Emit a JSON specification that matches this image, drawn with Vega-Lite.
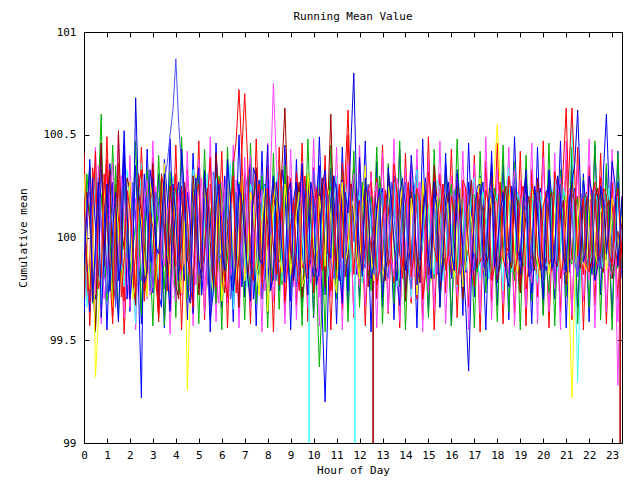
{
"$schema":"https://vega.github.io/schema/vega-lite/v6.json",
"width":538,"height":411,
"autosize":"none",
"padding":{"left":84,"top":32,"right":18,"bottom":37},
"background":"white",
"title":{"text":"Running Mean Value","font":"DejaVu Sans Mono","fontSize":11,"fontWeight":"normal","color":"black","offset":4},
"config":{"view":{"stroke":"black","strokeWidth":1},"axis":{"labelFont":"DejaVu Sans Mono","labelFontSize":11,"titleFont":"DejaVu Sans Mono","titleFontSize":11,"titleFontWeight":"normal","labelColor":"black","titleColor":"black","domainColor":"black","tickColor":"black","grid":false}},
"data":{"values":[
{"t":0,"a":100.05,"b":99.78,"c":100.24,"d":99.91,"e":100.13,"f":99.70,"g":100.31,"h":99.96,"i":100.19,"j":99.86,"k":99.62,"l":100.41,"m":99.88,"n":100.28},
{"t":0.125,"a":99.71,"b":100.31,"c":99.90,"d":100.08,"e":99.66,"f":100.22,"g":99.97,"h":100.18,"i":99.84,"j":100.12},
{"t":0.25,"a":99.88,"b":100.12,"c":99.64,"d":100.27,"e":99.83,"f":100.08,"g":99.75,"h":100.22,"i":99.69,"j":100.35,"k":100.38,"l":99.57,"m":100.33,"n":99.66},
{"t":0.375,"a":100.34,"b":99.68,"c":100.29,"d":99.88,"e":100.05,"f":99.79,"g":100.15,"h":99.73,"i":100.10,"j":99.69},
{"t":0.5,"a":100.21,"b":99.93,"c":100.06,"d":99.72,"e":100.31,"f":99.55,"g":99.32,"h":99.89,"i":100.42,"j":99.97,"k":99.70,"l":100.30,"m":99.54,"n":100.44},
{"t":0.625,"a":99.93,"b":100.22,"c":99.81,"d":100.35,"e":99.94,"f":100.14,"g":99.60,"h":100.29,"i":99.75,"j":100.27},
{"t":0.75,"a":99.76,"b":100.60,"c":100.33,"d":100.04,"e":99.67,"f":100.46,"g":99.84,"h":100.09,"i":99.81,"j":99.61,"k":100.46,"l":99.71,"m":100.21,"n":99.58},
{"t":0.875,"a":100.12,"b":99.87,"c":100.14,"d":99.70,"e":100.27,"f":99.86,"g":100.23,"h":99.83,"i":100.31,"j":99.92},
{"t":1,"a":100.38,"b":100.15,"c":99.81,"d":99.84,"e":100.02,"f":100.18,"g":100.12,"h":99.73,"i":100.07,"j":100.26,"k":99.55,"l":100.49,"m":99.69,"n":100.35},
{"t":1.125,"a":99.82,"b":100.04,"c":100.36,"d":100.19,"e":99.73,"f":100.33,"g":99.88,"h":100.05,"i":99.82,"j":99.74},
{"t":1.25,"a":99.95,"b":99.71,"c":100.17,"d":100.36,"e":99.91,"f":99.80,"g":99.66,"h":100.14,"i":99.58,"j":100.04,"k":100.27,"l":99.62,"m":100.45,"n":99.74},
{"t":1.375,"a":100.26,"b":100.35,"c":99.84,"d":99.79,"e":100.18,"f":99.69,"g":100.21,"h":99.66,"i":100.16,"j":100.22},
{"t":1.5,"a":100.09,"b":99.98,"c":99.59,"d":99.93,"e":100.24,"f":100.52,"g":100.03,"h":99.85,"i":100.28,"j":99.79,"k":99.81,"l":100.36,"m":99.60,"n":100.51},
{"t":1.625,"a":99.89,"b":99.80,"c":100.09,"d":100.30,"e":99.87,"f":100.06,"g":99.79,"h":100.19,"i":99.71,"j":99.88},
{"t":1.75,"a":99.69,"b":100.26,"c":100.45,"d":100.11,"e":99.76,"f":99.94,"g":99.89,"h":100.31,"i":99.90,"j":100.40,"k":100.52,"l":99.53,"m":100.28,"n":99.61},
{"t":1.875,"a":100.18,"b":100.10,"c":99.70,"d":99.87,"e":100.33,"f":100.29,"g":100.08,"h":99.90,"i":100.23,"j":100.15},
{"t":2,"a":100.27,"b":99.84,"c":99.92,"d":99.66,"e":100.15,"f":100.23,"g":100.27,"h":99.94,"i":100.14,"j":99.70,"k":99.64,"l":100.22,"m":99.72,"n":100.40},
{"t":2.125,"a":99.77,"b":99.94,"c":100.22,"d":100.02,"e":99.79,"f":99.81,"g":99.70,"h":100.27,"i":99.95,"j":99.86},
{"t":2.25,"a":99.92,"b":100.07,"c":100.11,"d":100.19,"e":99.58,"f":99.67,"g":99.78,"h":100.06,"i":99.73,"j":100.68,"k":100.35,"l":99.68,"m":100.47,"n":99.55},
{"t":2.375,"a":100.31,"b":100.26,"c":99.76,"d":99.83,"e":100.08,"f":100.22,"g":100.18,"h":99.81,"i":100.25,"j":100.19},
{"t":2.5,"a":100.14,"b":99.62,"c":99.22,"d":99.95,"e":100.36,"f":100.12,"g":100.08,"h":99.79,"i":100.33,"j":100.02,"k":99.58,"l":100.44,"m":99.63,"n":100.31},
{"t":2.625,"a":99.96,"b":99.79,"c":100.31,"d":100.16,"e":99.70,"f":99.74,"g":99.89,"h":100.10,"i":99.69,"j":99.78},
{"t":2.75,"a":99.81,"b":100.33,"c":100.08,"d":100.28,"e":99.94,"f":99.88,"g":99.71,"h":100.20,"i":99.87,"j":99.83,"k":100.43,"l":99.76,"m":100.25,"n":99.70},
{"t":2.875,"a":100.08,"b":100.15,"c":99.88,"d":99.72,"e":100.26,"f":100.17,"g":100.27,"h":99.74,"i":100.12,"j":100.33},
{"t":3,"a":100.33,"b":99.89,"c":100.29,"d":99.77,"e":100.09,"f":100.36,"g":100.19,"h":99.91,"i":100.05,"j":100.21,"k":99.73,"l":100.39,"m":99.57,"n":100.47},
{"t":3.125,"a":99.85,"b":99.96,"c":100.05,"d":100.25,"e":99.91,"f":99.88,"g":99.75,"h":100.22,"i":99.80,"j":99.96},
{"t":3.25,"a":99.74,"b":100.18,"c":99.73,"d":100.09,"e":99.80,"f":99.61,"g":99.94,"h":100.12,"i":99.62,"j":99.92,"k":100.31,"l":99.59,"m":100.40,"n":99.64},
{"t":3.375,"a":100.22,"b":100.29,"c":99.66,"d":99.93,"e":100.14,"f":100.31,"g":100.12,"h":99.87,"i":100.30,"j":100.08},
{"t":3.5,"a":100.02,"b":99.57,"c":100.38,"d":99.86,"e":100.27,"f":100.04,"g":100.36,"h":100.28,"i":100.24,"j":100.31,"k":99.56,"l":100.28,"m":99.75,"n":100.36},
{"t":3.625,"a":99.80,"b":99.83,"c":100.20,"d":100.11,"e":99.77,"f":99.85,"g":99.93,"h":100.36,"i":99.74,"j":99.83},
{"t":3.75,"a":100.19,"b":100.02,"c":99.87,"d":100.22,"e":99.69,"f":100.25,"g":99.81,"h":100.50,"i":99.97,"j":99.64,"k":100.48,"l":99.66,"m":100.32,"n":99.53},
{"t":3.875,"a":100.29,"b":100.14,"c":99.94,"d":99.80,"e":100.30,"f":100.07,"g":100.24,"h":100.62,"i":100.16,"j":100.26},
{"t":4,"a":99.86,"b":100.24,"c":100.16,"d":99.69,"e":100.18,"f":99.77,"g":100.05,"h":100.87,"i":100.31,"j":100.09,"k":99.69,"l":100.45,"m":99.61,"n":100.29},
{"t":4.125,"a":99.93,"b":99.72,"c":100.27,"d":100.21,"e":99.84,"f":99.70,"g":99.84,"h":100.55,"i":99.90,"j":99.79},
{"t":4.25,"a":100.25,"b":99.81,"c":99.95,"d":100.05,"e":99.88,"f":100.09,"g":99.73,"h":100.35,"i":99.84,"j":100.43,"k":100.25,"l":99.55,"m":100.49,"n":99.72},
{"t":4.375,"a":100.14,"b":100.27,"c":99.79,"d":99.87,"e":100.23,"f":100.26,"g":100.08,"h":100.12,"i":100.27,"j":100.21},
{"t":4.5,"a":99.97,"b":100.09,"c":100.22,"d":100.31,"e":100.04,"f":99.90,"g":99.26,"h":99.98,"i":100.11,"j":99.76,"k":99.60,"l":100.33,"m":99.70,"n":100.42},
{"t":4.625,"a":99.74,"b":99.90,"c":100.08,"d":100.16,"e":99.75,"f":99.82,"g":99.70,"h":99.86,"i":99.77,"j":99.68},
{"t":4.75,"a":100.11,"b":99.75,"c":99.63,"d":99.90,"e":100.33,"f":100.30,"g":100.16,"h":100.07,"i":99.66,"j":100.14,"k":100.41,"l":99.73,"m":100.24,"n":99.57},
{"t":4.875,"a":100.27,"b":100.18,"c":100.24,"d":99.77,"e":100.19,"f":100.12,"g":100.31,"h":100.23,"i":100.21,"j":100.29},
{"t":5,"a":99.79,"b":100.30,"c":100.34,"d":100.13,"e":99.74,"f":99.72,"g":99.92,"h":99.82,"i":100.26,"j":99.89,"k":99.75,"l":100.47,"m":99.58,"n":100.38},
{"t":5.125,"a":99.88,"b":99.84,"c":99.72,"d":100.29,"e":99.90,"f":99.91,"g":99.81,"h":99.95,"i":99.83,"j":99.80},
{"t":5.25,"a":100.30,"b":99.96,"c":99.90,"d":99.74,"e":100.07,"f":100.15,"g":100.24,"h":100.19,"i":99.93,"j":100.32,"k":100.33,"l":99.60,"m":100.43,"n":99.63},
{"t":5.375,"a":100.11,"b":100.23,"c":100.21,"d":99.92,"e":100.31,"f":100.24,"g":100.06,"h":99.79,"i":100.19,"j":100.11},
{"t":5.5,"a":99.93,"b":100.13,"c":100.09,"d":100.25,"e":99.86,"f":99.98,"g":99.85,"h":99.67,"i":100.39,"j":99.60,"k":99.54,"l":100.26,"m":99.67,"n":100.49},
{"t":5.625,"a":99.79,"b":99.91,"c":99.85,"d":100.10,"e":99.71,"f":99.77,"g":99.74,"h":100.32,"i":99.89,"j":99.73},
{"t":5.75,"a":100.16,"b":99.68,"c":100.41,"d":99.82,"e":100.29,"f":100.41,"g":100.04,"h":100.25,"i":99.76,"j":100.17,"k":100.46,"l":99.69,"m":100.37,"n":99.59},
{"t":5.875,"a":100.25,"b":100.30,"c":100.11,"d":99.68,"e":100.12,"f":100.19,"g":100.21,"h":99.88,"i":100.28,"j":100.26},
{"t":6,"a":99.72,"b":100.21,"c":99.78,"d":100.07,"e":99.97,"f":99.85,"g":99.69,"h":99.93,"i":100.08,"j":99.95,"k":99.66,"l":100.42,"m":99.55,"n":100.27},
{"t":6.125,"a":99.91,"b":99.79,"c":100.30,"d":100.22,"e":99.82,"f":99.73,"g":99.86,"h":100.14,"i":99.80,"j":99.84},
{"t":6.25,"a":100.08,"b":99.90,"c":100.18,"d":100.34,"e":100.20,"f":100.03,"g":100.29,"h":100.36,"i":99.71,"j":100.38,"k":100.29,"l":99.56,"m":100.44,"n":99.68},
{"t":6.375,"a":100.19,"b":100.13,"c":99.82,"d":99.81,"e":100.36,"f":100.16,"g":100.12,"h":99.70,"i":100.13,"j":100.20},
{"t":6.5,"a":100.35,"b":100.37,"c":99.67,"d":99.88,"e":99.65,"f":100.27,"g":99.95,"h":99.78,"i":100.30,"j":99.74,"k":99.59,"l":100.37,"m":99.71,"n":100.45},
{"t":6.625,"a":100.47,"b":99.95,"c":100.13,"d":100.28,"e":99.89,"f":99.92,"g":99.79,"h":100.22,"i":99.73,"j":99.87},
{"t":6.75,"a":100.72,"b":99.86,"c":100.26,"d":100.15,"e":100.11,"f":99.66,"g":100.13,"h":100.05,"i":99.91,"j":100.24,"k":100.50,"l":99.64,"m":100.27,"n":99.56},
{"t":6.875,"a":100.41,"b":100.24,"c":99.76,"d":99.90,"e":100.17,"f":100.29,"g":100.30,"h":99.84,"i":100.42,"j":100.18},
{"t":7,"a":99.90,"b":100.10,"c":99.93,"d":99.79,"e":99.92,"f":100.12,"g":99.79,"h":100.21,"i":100.70,"j":100.01,"k":99.71,"l":100.31,"m":99.60,"n":100.39},
{"t":7.125,"a":99.83,"b":99.88,"c":100.23,"d":100.29,"e":99.76,"f":99.80,"g":99.90,"h":100.30,"i":100.38,"j":99.81},
{"t":7.25,"a":100.23,"b":99.74,"c":100.37,"d":100.40,"e":100.26,"f":99.95,"g":100.22,"h":99.87,"i":99.85,"j":99.69,"k":100.36,"l":99.58,"m":100.46,"n":99.65},
{"t":7.375,"a":100.15,"b":100.19,"c":99.70,"d":99.85,"e":100.20,"f":100.18,"g":100.15,"h":99.93,"i":99.79,"j":100.34},
{"t":7.5,"a":99.82,"b":100.27,"c":99.85,"d":99.96,"e":99.81,"f":100.34,"g":99.88,"h":100.13,"i":100.17,"j":100.29,"k":99.57,"l":100.48,"m":99.68,"n":100.33},
{"t":7.625,"a":99.90,"b":99.82,"c":100.28,"d":100.13,"e":99.86,"f":99.93,"g":99.72,"h":100.19,"i":100.26,"j":99.90},
{"t":7.75,"a":100.12,"b":99.95,"c":100.12,"d":100.23,"e":100.15,"f":99.79,"g":100.07,"h":99.70,"i":99.78,"j":99.87,"k":100.42,"l":99.70,"m":100.30,"n":99.54},
{"t":7.875,"a":100.24,"b":100.26,"c":99.89,"d":99.74,"e":100.25,"f":100.24,"g":100.24,"h":99.82,"i":99.92,"j":100.15},
{"t":8,"a":99.95,"b":100.16,"c":99.71,"d":99.85,"e":99.73,"f":100.06,"g":99.64,"h":100.28,"i":100.24,"j":100.45,"k":99.63,"l":100.35,"m":99.56,"n":100.46},
{"t":8.125,"a":99.86,"b":99.91,"c":100.15,"d":100.31,"e":99.84,"f":99.84,"g":99.95,"h":100.07,"i":100.14,"j":99.74},
{"t":8.25,"a":100.28,"b":99.79,"c":100.30,"d":100.75,"e":100.08,"f":100.21,"g":100.18,"h":99.95,"i":99.96,"j":99.82,"k":100.27,"l":99.54,"m":100.41,"n":99.69},
{"t":8.375,"a":100.10,"b":100.20,"c":99.80,"d":100.38,"e":100.27,"f":100.11,"g":100.27,"h":99.79,"i":99.82,"j":100.27},
{"t":8.5,"a":99.77,"b":100.04,"c":99.96,"d":100.10,"e":100.35,"f":99.88,"g":99.91,"h":100.10,"i":100.35,"j":100.13,"k":99.74,"l":100.44,"m":99.65,"n":100.30},
{"t":8.625,"a":99.95,"b":99.77,"c":100.33,"d":99.89,"e":99.79,"f":100.35,"g":99.83,"h":100.25,"i":100.22,"j":99.93},
{"t":8.75,"a":100.17,"b":100.31,"c":100.21,"d":99.80,"e":99.87,"f":100.63,"g":100.26,"h":99.83,"i":99.69,"j":99.78,"k":100.45,"l":99.62,"m":100.35,"n":99.58},
{"t":8.875,"a":100.30,"b":100.16,"c":99.92,"d":100.20,"e":100.16,"f":100.20,"g":100.12,"h":99.91,"i":99.86,"j":100.22},
{"t":9,"a":99.99,"b":99.87,"c":99.69,"d":100.19,"e":100.10,"f":99.93,"g":99.82,"h":100.24,"i":100.06,"j":100.27,"k":99.55,"l":100.29,"m":99.73,"n":100.43},
{"t":9.125,"a":99.78,"b":99.95,"c":100.18,"d":99.76,"e":99.92,"f":99.79,"g":99.96,"h":100.12,"i":100.18,"j":99.80},
{"t":9.25,"a":100.32,"b":100.11,"c":100.27,"d":99.92,"e":99.78,"f":100.17,"g":100.12,"h":99.76,"i":99.88,"j":99.93,"k":100.38,"l":99.67,"m":100.26,"n":99.60},
{"t":9.375,"a":100.19,"b":100.24,"c":99.81,"d":100.13,"e":100.19,"f":100.27,"g":100.22,"h":99.85,"i":99.74,"j":100.15},
{"t":9.5,"a":99.85,"b":99.66,"c":99.90,"d":100.26,"e":100.01,"f":99.71,"g":99.76,"h":100.16,"i":100.21,"j":100.36,"k":99.68,"l":100.46,"m":99.57,"n":100.37},
{"t":9.625,"a":99.89,"b":99.82,"c":100.26,"d":100.04,"e":99.83,"f":99.86,"g":99.81,"h":100.28,"i":100.30,"j":99.88},
{"t":9.75,"a":100.06,"b":100.19,"c":100.15,"d":99.87,"e":99.85,"f":100.28,"g":100.31,"h":99.94,"i":99.80,"j":99.72,"k":100.31,"l":99.59,"m":100.48,"n":99.66},
{"t":9.79,"e":100.02},
{"t":9.8,"e":40},
{"t":9.81,"e":99.90},
{"t":9.875,"a":100.25,"b":100.07,"c":99.88,"d":99.78,"e":100.05,"f":100.14,"g":100.17,"h":99.89,"i":99.93,"j":100.27},
{"t":10,"a":99.73,"b":99.94,"c":99.81,"d":100.12,"e":100.16,"f":99.90,"g":99.97,"h":100.33,"i":100.14,"j":100.19,"k":99.61,"l":100.34,"m":99.62,"n":100.48},
{"t":10.125,"a":99.94,"b":99.79,"c":100.22,"d":100.25,"e":99.94,"f":99.83,"g":99.85,"h":100.17,"i":100.24,"j":99.77},
{"t":10.25,"a":100.24,"b":99.37,"c":100.35,"d":99.71,"e":99.86,"f":100.10,"g":100.20,"h":99.81,"i":99.93,"j":99.85,"k":100.49,"l":99.72,"m":100.29,"n":99.57},
{"t":10.375,"a":100.12,"b":99.71,"c":99.63,"d":99.90,"e":100.12,"f":100.29,"g":100.08,"h":99.94,"i":99.84,"j":100.24},
{"t":10.5,"a":99.91,"b":100.08,"c":99.20,"d":100.29,"e":100.23,"f":99.76,"g":99.86,"h":100.07,"i":100.29,"j":100.33,"k":99.72,"l":100.40,"m":99.54,"n":100.32},
{"t":10.625,"a":99.81,"b":100.18,"c":99.68,"d":100.17,"e":99.81,"f":100.18,"g":100.23,"h":100.21,"i":100.20,"j":99.92},
{"t":10.75,"a":100.14,"b":100.25,"c":100.19,"d":99.95,"e":99.92,"f":100.60,"g":100.09,"h":99.89,"i":99.74,"j":99.90,"k":100.34,"l":99.55,"m":100.45,"n":99.71},
{"t":10.875,"a":100.27,"b":99.92,"c":100.30,"d":99.81,"e":100.17,"f":100.05,"g":99.80,"h":99.80,"i":99.88,"j":100.30},
{"t":11,"a":99.80,"b":99.83,"c":99.86,"d":100.17,"e":100.30,"f":99.84,"g":99.73,"h":100.26,"i":100.12,"j":100.23,"k":99.58,"l":100.27,"m":99.70,"n":100.44},
{"t":11.125,"a":99.93,"b":100.16,"c":99.79,"d":100.26,"e":99.86,"f":100.21,"g":100.14,"h":100.10,"i":100.26,"j":99.84},
{"t":11.25,"a":100.36,"b":100.12,"c":100.28,"d":99.83,"e":99.75,"f":100.19,"g":100.27,"h":99.72,"i":99.90,"j":99.68,"k":100.44,"l":99.65,"m":100.33,"n":99.55},
{"t":11.375,"a":100.18,"b":99.86,"c":100.14,"d":99.92,"e":100.26,"f":99.81,"g":99.87,"h":99.88,"i":100.31,"j":100.22},
{"t":11.5,"a":99.96,"b":99.90,"c":99.74,"d":100.08,"e":100.12,"f":99.92,"g":99.95,"h":100.18,"i":100.62,"j":100.12,"k":99.65,"l":100.50,"m":99.59,"n":100.36},
{"t":11.625,"a":99.84,"b":100.22,"c":100.26,"d":100.19,"e":99.83,"f":100.26,"g":100.20,"h":100.24,"i":100.11,"j":100.46},
{"t":11.75,"a":100.10,"b":100.34,"c":100.09,"d":100.31,"e":100.08,"f":100.07,"g":100.14,"h":99.98,"i":99.82,"j":100.80,"k":100.30,"l":99.61,"m":100.42,"n":99.62},
{"t":11.79,"e":99.96},
{"t":11.8,"e":40},
{"t":11.81,"e":100.04},
{"t":11.875,"a":100.24,"b":99.93,"c":99.82,"d":99.86,"e":100.15,"f":99.90,"g":99.92,"h":100.13,"i":100.05,"j":100.20},
{"t":12,"a":99.84,"b":99.78,"c":100.39,"d":99.76,"e":100.22,"f":99.81,"g":99.80,"h":100.31,"i":100.18,"j":99.94,"k":99.70,"l":100.38,"m":99.66,"n":100.45},
{"t":12.125,"a":99.97,"b":100.27,"c":100.12,"d":100.20,"e":99.78,"f":100.16,"g":100.18,"h":99.90,"i":99.83,"j":99.81},
{"t":12.25,"a":100.20,"b":100.05,"c":99.88,"d":100.14,"e":99.90,"f":100.24,"g":100.35,"h":99.85,"i":99.95,"j":100.29,"k":100.47,"l":99.57,"m":100.27,"n":99.67},
{"t":12.375,"a":100.09,"b":99.81,"c":100.25,"d":99.84,"e":100.19,"f":99.76,"g":100.03,"h":100.26,"i":100.23,"j":100.16},
{"t":12.5,"a":99.94,"b":100.20,"c":100.13,"d":99.90,"e":100.06,"f":99.93,"g":99.91,"h":100.14,"i":100.27,"j":99.80,"k":99.54,"l":100.32,"m":99.74,"n":100.31},
{"t":12.58,"f":100.05},
{"t":12.59,"f":40},
{"t":12.6,"f":99.98},
{"t":12.625,"a":100.13,"b":100.08,"c":99.87,"d":100.19,"e":99.91,"f":99.96,"g":99.79,"h":99.82,"i":100.09,"j":99.87},
{"t":12.75,"a":100.29,"b":99.85,"c":99.79,"d":100.27,"e":99.79,"f":100.13,"g":100.06,"h":99.93,"i":99.77,"j":100.16,"k":100.37,"l":99.70,"m":100.44,"n":99.56},
{"t":12.875,"a":99.85,"b":100.30,"c":100.20,"d":99.83,"e":100.24,"f":100.22,"g":100.21,"h":100.16,"i":99.84,"j":100.24},
{"t":13,"a":99.88,"b":100.14,"c":100.24,"d":99.98,"e":100.18,"f":99.86,"g":99.78,"h":100.22,"i":100.09,"j":99.71,"k":99.66,"l":100.45,"m":99.58,"n":100.41},
{"t":13.125,"a":100.23,"b":99.80,"c":99.84,"d":100.16,"e":99.87,"f":99.79,"g":99.91,"h":99.86,"i":100.21,"j":99.88},
{"t":13.25,"a":100.15,"b":99.92,"c":99.92,"d":100.09,"e":99.94,"f":100.31,"g":100.25,"h":99.80,"i":99.86,"j":100.34,"k":100.29,"l":99.63,"m":100.36,"n":99.64},
{"t":13.375,"a":99.93,"b":100.16,"c":100.17,"d":99.90,"e":100.11,"f":100.19,"g":100.16,"h":100.27,"i":99.91,"j":100.18},
{"t":13.5,"a":99.78,"b":100.28,"c":100.30,"d":99.81,"e":100.27,"f":99.97,"g":99.94,"h":100.09,"i":100.36,"j":99.97,"k":99.60,"l":100.27,"m":99.68,"n":100.48},
{"t":13.625,"a":100.21,"b":99.89,"c":99.80,"d":100.29,"e":99.76,"f":99.84,"g":99.83,"h":99.97,"i":100.22,"j":99.79},
{"t":13.75,"a":100.07,"b":99.76,"c":99.67,"d":100.22,"e":99.84,"f":100.08,"g":100.13,"h":99.91,"i":99.92,"j":100.21,"k":100.43,"l":99.56,"m":100.47,"n":99.59},
{"t":13.875,"a":99.86,"b":100.21,"c":100.26,"d":99.92,"e":100.22,"f":100.24,"g":100.27,"h":100.18,"i":99.80,"j":100.29},
{"t":14,"a":99.92,"b":100.09,"c":100.17,"d":99.85,"e":100.08,"f":99.69,"g":99.86,"h":100.27,"i":100.15,"j":99.84,"k":99.73,"l":100.41,"m":99.55,"n":100.34},
{"t":14.125,"a":100.16,"b":99.93,"c":99.95,"d":100.24,"e":99.92,"f":99.90,"g":99.93,"h":99.84,"i":100.27,"j":99.95},
{"t":14.25,"a":100.26,"b":99.88,"c":99.86,"d":100.36,"e":99.71,"f":100.22,"g":100.19,"h":99.75,"i":99.81,"j":100.40,"k":100.35,"l":99.68,"m":100.31,"n":99.70},
{"t":14.375,"a":99.90,"b":100.17,"c":100.22,"d":99.81,"e":100.21,"f":100.11,"g":100.06,"h":100.21,"i":99.93,"j":100.20},
{"t":14.5,"a":99.70,"b":100.23,"c":100.33,"d":99.94,"e":100.33,"f":99.91,"g":99.72,"h":100.12,"i":100.24,"j":99.77,"k":99.56,"l":100.35,"m":99.72,"n":100.43},
{"t":14.625,"a":100.24,"b":99.83,"c":99.78,"d":100.27,"e":99.87,"f":99.78,"g":99.88,"h":99.89,"i":100.17,"j":99.86},
{"t":14.75,"a":100.19,"b":99.97,"c":100.02,"d":100.12,"e":99.98,"f":100.16,"g":100.28,"h":100.03,"i":99.70,"j":100.10,"k":100.48,"l":99.60,"m":100.25,"n":99.54},
{"t":14.875,"a":99.93,"b":100.22,"c":100.29,"d":99.94,"e":100.20,"f":100.27,"g":100.13,"h":100.27,"i":99.82,"j":100.23},
{"t":15,"a":99.87,"b":100.15,"c":99.76,"d":99.73,"e":100.14,"f":99.82,"g":99.97,"h":99.86,"i":100.32,"j":99.91,"k":99.64,"l":100.49,"m":99.61,"n":100.38},
{"t":15.125,"a":100.12,"b":99.89,"c":99.97,"d":100.14,"e":99.90,"f":99.93,"g":99.79,"h":100.05,"i":100.20,"j":99.80},
{"t":15.25,"a":100.31,"b":99.80,"c":100.21,"d":100.18,"e":99.82,"f":100.35,"g":100.10,"h":100.19,"i":99.95,"j":100.27,"k":100.28,"l":99.55,"m":100.43,"n":99.65},
{"t":15.375,"a":99.82,"b":100.12,"c":100.16,"d":99.83,"e":100.28,"f":100.19,"g":100.20,"h":99.84,"i":99.88,"j":100.14},
{"t":15.5,"a":99.97,"b":100.19,"c":99.91,"d":99.87,"e":100.24,"f":99.75,"g":99.83,"h":99.79,"i":100.11,"j":99.66,"k":99.69,"l":100.31,"m":99.66,"n":100.47},
{"t":15.625,"a":100.26,"b":99.86,"c":99.83,"d":100.19,"e":99.79,"f":99.86,"g":99.93,"h":100.17,"i":100.26,"j":99.90},
{"t":15.75,"a":100.13,"b":99.91,"c":100.36,"d":100.24,"e":99.89,"f":100.11,"g":100.22,"h":100.26,"i":99.84,"j":100.18,"k":100.41,"l":99.73,"m":100.34,"n":99.58},
{"t":15.875,"a":99.94,"b":100.15,"c":100.19,"d":99.88,"e":100.17,"f":100.22,"g":100.11,"h":99.91,"i":99.93,"j":100.27},
{"t":16,"a":99.81,"b":100.26,"c":99.80,"d":99.96,"e":100.05,"f":99.88,"g":99.90,"h":99.92,"i":100.20,"j":99.93,"k":99.57,"l":100.43,"m":99.57,"n":100.30},
{"t":16.125,"a":100.17,"b":99.93,"c":99.92,"d":100.22,"e":99.86,"f":99.81,"g":99.80,"h":100.23,"i":100.13,"j":99.84},
{"t":16.25,"a":100.22,"b":99.84,"c":100.14,"d":100.30,"e":99.76,"f":100.25,"g":100.07,"h":100.15,"i":99.77,"j":100.31,"k":100.33,"l":99.61,"m":100.48,"n":99.72},
{"t":16.375,"a":99.83,"b":100.20,"c":100.24,"d":99.86,"e":100.10,"f":100.09,"g":100.24,"h":99.82,"i":99.89,"j":100.18},
{"t":16.5,"a":99.90,"b":100.12,"c":99.93,"d":99.79,"e":100.20,"f":99.70,"g":99.76,"h":99.88,"i":100.28,"j":99.88,"k":99.62,"l":100.26,"m":99.70,"n":100.42},
{"t":16.625,"a":100.21,"b":99.88,"c":99.83,"d":100.24,"e":99.84,"f":99.92,"g":99.91,"h":100.12,"i":100.24,"j":99.66},
{"t":16.75,"a":100.08,"b":99.95,"c":100.27,"d":100.16,"e":99.93,"f":100.14,"g":100.16,"h":100.21,"i":99.93,"j":99.35,"k":100.46,"l":99.66,"m":100.27,"n":99.55},
{"t":16.875,"a":99.91,"b":100.19,"c":100.12,"d":99.80,"e":100.24,"f":100.28,"g":100.09,"h":99.87,"i":99.81,"j":99.82},
{"t":17,"a":99.76,"b":100.21,"c":99.84,"d":99.91,"e":100.29,"f":99.93,"g":99.92,"h":99.84,"i":100.16,"j":100.08,"k":99.71,"l":100.40,"m":99.56,"n":100.36},
{"t":17.125,"a":100.14,"b":99.83,"c":99.91,"d":100.18,"e":99.89,"f":99.85,"g":100.18,"h":100.19,"i":100.22,"j":100.25},
{"t":17.25,"a":100.27,"b":99.89,"c":100.18,"d":100.21,"e":99.80,"f":100.20,"g":100.29,"h":100.10,"i":99.88,"j":100.26,"k":100.30,"l":99.54,"m":100.42,"n":99.63},
{"t":17.375,"a":99.87,"b":100.15,"c":100.27,"d":99.93,"e":100.22,"f":100.13,"g":99.86,"h":99.85,"i":99.91,"j":99.92},
{"t":17.5,"a":99.95,"b":100.07,"c":99.89,"d":99.84,"e":100.13,"f":99.85,"g":99.81,"h":99.95,"i":100.23,"j":99.81,"k":99.55,"l":100.37,"m":99.73,"n":100.49},
{"t":17.625,"a":100.22,"b":99.92,"c":99.80,"d":100.20,"e":99.80,"f":99.92,"g":100.24,"h":100.17,"i":100.16,"j":100.19},
{"t":17.75,"a":100.18,"b":99.82,"c":100.32,"d":100.27,"e":99.87,"f":100.30,"g":100.14,"h":100.24,"i":99.79,"j":100.36,"k":100.42,"l":99.69,"m":100.30,"n":99.60},
{"t":17.875,"a":99.89,"b":100.24,"c":100.15,"d":99.86,"e":100.17,"f":100.18,"g":100.33,"h":99.90,"i":99.85,"j":99.86},
{"t":18,"a":99.83,"b":100.17,"c":99.78,"d":99.95,"e":100.21,"f":99.79,"g":100.55,"h":99.82,"i":100.13,"j":99.95,"k":99.67,"l":100.46,"m":99.59,"n":100.33},
{"t":18.125,"a":100.15,"b":99.85,"c":99.90,"d":100.24,"e":99.93,"f":99.88,"g":100.27,"h":100.23,"i":100.27,"j":100.12},
{"t":18.25,"a":100.23,"b":99.93,"c":100.11,"d":100.10,"e":99.74,"f":100.16,"g":99.88,"h":100.17,"i":99.90,"j":100.22,"k":100.36,"l":99.58,"m":100.45,"n":99.68},
{"t":18.375,"a":99.92,"b":100.14,"c":100.21,"d":99.91,"e":100.25,"f":100.25,"g":99.95,"h":99.94,"i":99.84,"j":99.83},
{"t":18.5,"a":99.96,"b":100.28,"c":99.94,"d":99.82,"e":100.34,"f":99.90,"g":100.21,"h":99.90,"i":100.30,"j":99.76,"k":99.60,"l":100.29,"m":99.64,"n":100.44},
{"t":18.625,"a":100.20,"b":99.90,"c":99.86,"d":100.18,"e":99.83,"f":99.85,"g":100.14,"h":100.16,"i":100.19,"j":100.25},
{"t":18.75,"a":100.12,"b":99.79,"c":100.25,"d":100.33,"e":99.91,"f":100.24,"g":99.94,"h":100.29,"i":99.83,"j":100.14,"k":100.49,"l":99.63,"m":100.37,"n":99.57},
{"t":18.875,"a":99.86,"b":100.22,"c":100.20,"d":99.84,"e":100.22,"f":100.17,"g":99.83,"h":99.92,"i":99.90,"j":99.94},
{"t":19,"a":99.74,"b":100.13,"c":99.82,"d":99.89,"e":100.17,"f":99.73,"g":100.08,"h":99.86,"i":100.19,"j":99.89,"k":99.74,"l":100.42,"m":99.55,"n":100.28},
{"t":19.125,"a":100.18,"b":99.86,"c":99.96,"d":100.25,"e":99.90,"f":99.92,"g":100.20,"h":100.20,"i":100.25,"j":100.17},
{"t":19.25,"a":100.30,"b":99.90,"c":100.29,"d":100.19,"e":99.85,"f":100.12,"g":99.77,"h":100.13,"i":99.75,"j":100.33,"k":100.27,"l":99.57,"m":100.40,"n":99.66},
{"t":19.375,"a":99.85,"b":100.17,"c":100.12,"d":99.87,"e":100.20,"f":100.20,"g":99.87,"h":99.84,"i":99.86,"j":99.81},
{"t":19.5,"a":99.91,"b":100.20,"c":99.73,"d":99.78,"e":100.26,"f":99.96,"g":100.26,"h":99.97,"i":100.26,"j":99.84,"k":99.58,"l":100.33,"m":99.69,"n":100.46},
{"t":19.625,"a":100.22,"b":99.92,"c":99.89,"d":100.20,"e":99.86,"f":99.84,"g":100.15,"h":100.19,"i":100.20,"j":100.25},
{"t":19.75,"a":100.16,"b":99.86,"c":100.16,"d":100.26,"e":99.78,"f":100.29,"g":99.90,"h":100.22,"i":99.92,"j":100.12,"k":100.44,"l":99.71,"m":100.26,"n":99.58},
{"t":19.875,"a":99.90,"b":100.20,"c":100.24,"d":99.85,"e":100.22,"f":100.16,"g":99.80,"h":99.90,"i":99.84,"j":99.89},
{"t":20,"a":99.85,"b":100.11,"c":99.98,"d":99.92,"e":100.10,"f":99.83,"g":100.15,"h":99.79,"i":100.15,"j":99.70,"k":99.63,"l":100.47,"m":99.62,"n":100.39},
{"t":20.125,"a":100.14,"b":99.88,"c":99.84,"d":100.22,"e":99.86,"f":99.90,"g":100.23,"h":100.23,"i":100.22,"j":100.19},
{"t":20.25,"a":100.26,"b":99.73,"c":100.33,"d":100.14,"e":99.89,"f":100.18,"g":99.82,"h":100.18,"i":99.87,"j":100.28,"k":100.32,"l":99.56,"m":100.46,"n":99.64},
{"t":20.375,"a":99.84,"b":100.18,"c":100.20,"d":99.90,"e":100.19,"f":100.22,"g":99.91,"h":99.87,"i":99.90,"j":99.85},
{"t":20.5,"a":99.93,"b":100.24,"c":99.77,"d":99.75,"e":100.31,"f":99.88,"g":100.11,"h":99.93,"i":100.32,"j":99.91,"k":99.70,"l":100.30,"m":99.57,"n":100.41},
{"t":20.625,"a":100.23,"b":99.85,"c":99.94,"d":100.20,"e":99.84,"f":99.86,"g":100.19,"h":100.17,"i":100.24,"j":100.30},
{"t":20.75,"a":100.10,"b":99.94,"c":100.21,"d":100.29,"e":99.95,"f":100.10,"g":99.85,"h":100.26,"i":99.80,"j":100.20,"k":100.47,"l":99.64,"m":100.33,"n":99.55},
{"t":20.875,"a":100.35,"b":100.22,"c":100.17,"d":99.82,"e":100.24,"f":100.18,"g":99.86,"h":99.84,"i":99.89,"j":99.93},
{"t":21,"a":100.63,"b":100.16,"c":99.87,"d":99.86,"e":100.18,"f":99.77,"g":100.20,"h":99.88,"i":100.11,"j":99.83,"k":99.56,"l":100.38,"m":99.71,"n":100.47},
{"t":21.125,"a":100.12,"b":99.90,"c":99.83,"d":100.24,"e":100.26,"f":99.90,"g":99.70,"h":100.20,"i":100.34,"j":100.17},
{"t":21.25,"a":99.89,"b":99.87,"c":100.19,"d":100.20,"e":100.60,"f":100.27,"g":99.22,"h":100.12,"i":100.63,"j":100.27,"k":100.39,"l":99.60,"m":100.44,"n":99.62},
{"t":21.375,"a":100.14,"b":100.15,"c":100.24,"d":99.86,"e":99.88,"f":100.15,"g":99.76,"h":99.88,"i":100.30,"j":100.36},
{"t":21.5,"a":100.20,"b":100.19,"c":99.81,"d":99.83,"e":99.30,"f":99.92,"g":100.09,"h":99.81,"i":99.91,"j":100.62,"k":99.66,"l":100.44,"m":99.58,"n":100.35},
{"t":21.625,"a":99.92,"b":99.86,"c":99.96,"d":100.22,"e":99.82,"f":99.85,"g":100.21,"h":100.16,"i":100.12,"j":100.22},
{"t":21.75,"a":99.82,"b":99.91,"c":100.28,"d":100.17,"e":100.14,"f":100.21,"g":99.88,"h":100.24,"i":100.19,"j":99.88,"k":100.31,"l":99.55,"m":100.29,"n":99.69},
{"t":21.875,"a":100.22,"b":100.19,"c":100.15,"d":99.88,"e":100.21,"f":100.20,"g":99.84,"h":99.87,"i":99.86,"j":99.95},
{"t":22,"a":100.15,"b":100.13,"c":99.90,"d":99.79,"e":99.86,"f":99.84,"g":100.17,"h":99.90,"i":99.83,"j":100.30,"k":99.59,"l":100.35,"m":99.66,"n":100.48},
{"t":22.125,"a":99.85,"b":99.88,"c":99.82,"d":100.21,"e":99.92,"f":99.89,"g":100.22,"h":100.23,"i":100.20,"j":100.21},
{"t":22.25,"a":99.88,"b":99.80,"c":100.24,"d":100.25,"e":100.23,"f":100.19,"g":99.93,"h":100.20,"i":100.27,"j":99.79,"k":100.45,"l":99.67,"m":100.47,"n":99.56},
{"t":22.375,"a":100.18,"b":100.16,"c":100.20,"d":99.86,"e":100.17,"f":100.24,"g":99.87,"h":99.91,"i":99.89,"j":99.86},
{"t":22.5,"a":100.29,"b":100.22,"c":99.85,"d":99.88,"e":99.92,"f":99.86,"g":100.12,"h":99.85,"i":99.94,"j":100.25,"k":99.72,"l":100.41,"m":99.60,"n":100.30},
{"t":22.625,"a":99.90,"b":99.92,"c":100.33,"d":100.19,"e":99.84,"f":99.83,"g":100.16,"h":100.18,"i":100.24,"j":100.17},
{"t":22.75,"a":99.94,"b":99.89,"c":100.60,"d":100.13,"e":100.16,"f":100.15,"g":99.84,"h":100.15,"i":100.21,"j":99.92,"k":100.34,"l":99.58,"m":100.36,"n":99.64},
{"t":22.875,"a":100.23,"b":100.20,"c":100.21,"d":99.85,"e":100.24,"f":100.18,"g":99.91,"h":99.86,"i":99.92,"j":100.05},
{"t":23,"a":100.17,"b":100.08,"c":99.92,"d":99.80,"e":99.81,"f":99.80,"g":100.19,"h":99.92,"i":99.86,"j":100.37,"k":99.61,"l":100.27,"m":99.55,"n":100.43},
{"t":23.125,"a":99.95,"b":99.86,"c":99.87,"d":99.98,"e":99.90,"f":99.90,"g":100.14,"h":100.20,"i":100.16,"j":100.26},
{"t":23.25,"a":99.86,"b":99.85,"c":100.27,"d":99.28,"e":100.20,"f":100.03,"g":99.95,"h":100.19,"i":100.24,"j":99.86,"k":100.42,"l":99.70,"m":100.41,"n":99.59},
{"t":23.34,"f":99.95},
{"t":23.35,"f":40},
{"t":23.36,"f":100.02},
{"t":23.43,"a":100.10,"b":100.14,"c":99.96,"d":100.12,"e":99.97,"f":100.08,"g":100.11,"h":99.94,"i":99.90,"j":100.20,"k":99.80,"l":100.20,"m":99.85,"n":100.15}
]},
"transform":[{"fold":["k","l","m","n","a","b","c","d","e","f","g","h","i","j"],"as":["s","v"]}],
"layer":[
{"mark":{"type":"line","strokeWidth":1,"clip":true,"invalid":"filter"},
"encoding":{
"x":{"field":"t","type":"quantitative","scale":{"domain":[0,23.43],"nice":false,"zero":false},"axis":{"values":[0,1,2,3,4,5,6,7,8,9,10,11,12,13,14,15,16,17,18,19,20,21,22,23],"title":"Hour of Day","tickSize":-5,"labelPadding":11,"labelFlush":false,"labelOverlap":false,"titlePadding":4}},
"y":{"field":"v","type":"quantitative","scale":{"domain":[99,101],"nice":false,"zero":false},"axis":{"values":[99,99.5,100,100.5,101],"format":"~f","title":"Cumulative mean","tickSize":-5,"labelPadding":13,"titlePadding":14,"labelFlush":false}},
"color":{"field":"s","type":"nominal","scale":{"domain":["k","l","m","n","a","b","c","d","e","f","g","h","i","j"],"range":["#0000ff","#ff0000","#00b000","#ff40ff","#ff0000","#00b000","#0000ff","#ff40ff","#40ffff","#a00000","#ffff00","#5050ff","#ff0000","#0000e0"]},"legend":null}
}},
{"mark":{"type":"point","opacity":0,"invalid":"filter"},
"encoding":{
"x":{"field":"t","type":"quantitative","axis":{"orient":"top","labels":false,"title":null,"domain":false,"tickSize":-5,"values":[0,1,2,3,4,5,6,7,8,9,10,11,12,13,14,15,16,17,18,19,20,21,22,23]}},
"y":{"field":"v","type":"quantitative","axis":{"orient":"right","labels":false,"title":null,"domain":false,"tickSize":-5,"values":[99,99.5,100,100.5,101]}}
}}
],
"resolve":{"axis":{"x":"independent","y":"independent"}}
}
